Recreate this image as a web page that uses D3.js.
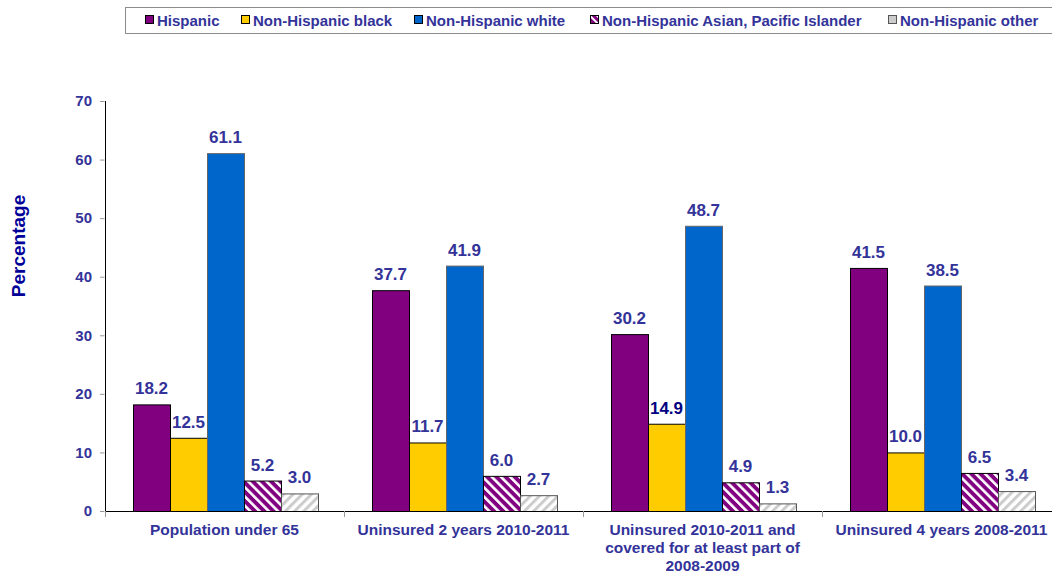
<!DOCTYPE html>
<html><head><meta charset="utf-8">
<script src="https://cdn.jsdelivr.net/npm/d3@7"></script>
<style>
html,body{margin:0;padding:0;background:#fff;}
svg{display:block;font-family:"Liberation Sans",Arial,sans-serif;font-weight:bold;}
</style></head>
<body>
<svg id="chart" width="1052" height="573"></svg>
<script>
const categories = [
  ["Population under 65"],
  ["Uninsured 2 years 2010-2011"],
  ["Uninsured 2010-2011 and", "covered for at least part of", "2008-2009"],
  ["Uninsured 4 years 2008-2011"]
];
const seriesNames = ["Hispanic", "Non-Hispanic black", "Non-Hispanic white", "Non-Hispanic Asian, Pacific Islander", "Non-Hispanic other"];
const hispanic = [18.2, 37.7, 30.2, 41.5];
const black = [12.5, 11.7, 14.9, 10.0];
const white = [61.1, 41.9, 48.7, 38.5];
const asian = [5.2, 6.0, 4.9, 6.5];
const other = [3.0, 2.7, 1.3, 3.4];
const yTicks = [0, 10, 20, 30, 40, 50, 60, 70];

const seriesValues = [hispanic, black, white, asian, other];
const fills = ["#800080", "#ffcc00", "#0066cc", "url(#patAsian)", "url(#patOther)"];
const swatchFills = ["#800080", "#ffcc00", "#0066cc", "url(#patAsianS)", "#cccccc"];
const strokes = ["#000", "#000", "#666", "#000", "#555"];

const svg = d3.select("#chart");
const defs = svg.append("defs");
function stripes(id, bg, fg, w, sw, angle) {
  const p = defs.append("pattern").attr("id", id).attr("patternUnits", "userSpaceOnUse")
    .attr("width", w).attr("height", w).attr("patternTransform", `rotate(${angle})`);
  p.append("rect").attr("width", w).attr("height", w).attr("fill", bg);
  p.append("rect").attr("width", sw).attr("height", w).attr("fill", fg);
}
stripes("patAsian", "#800080", "#ffffff", 6.5, 2.6, -45);
stripes("patAsianS", "#800080", "#ffffff", 5, 2, -45);
stripes("patOther", "#ffffff", "#cccccc", 6.5, 3, 45);

const yBase = 511, yTop = 101, xLeft = 105, bandW = 239;
const x = d3.scaleBand().domain(d3.range(categories.length)).range([xLeft, xLeft + bandW * categories.length]).padding(0);
const xs = d3.scaleBand().domain(d3.range(seriesNames.length)).range([28, 28 + 185]).padding(0);
const y = d3.scaleLinear().domain([0, 70]).range([yBase, yTop]);

// Legend
svg.append("rect").attr("x", 125.5).attr("y", 7.5).attr("width", 940).attr("height", 26)
  .attr("fill", "#fff").attr("stroke", "#8c8c8c").attr("stroke-width", 1);
const legendX = [145, 241, 414, 590, 888];
seriesNames.forEach((n, i) => {
  svg.append("rect").attr("x", legendX[i] + 0.5).attr("y", 15.5).attr("width", 8).attr("height", 8)
    .attr("fill", swatchFills[i]).attr("stroke", i === 4 ? "#555" : "#000").attr("stroke-width", 1);
  svg.append("text").attr("x", legendX[i] + 12).attr("y", 25.5).attr("font-size", 15)
    .attr("fill", "#333399").text(n);
});

// Y axis
const yAxis = d3.axisLeft(y).tickValues(yTicks).tickSize(5).tickPadding(8).tickFormat(d3.format("d"));
const ga = svg.append("g").attr("transform", `translate(${xLeft},0)`).call(yAxis);
ga.select(".domain").attr("stroke", "#000").attr("d", `M0.5,${yTop}V${yBase}`);
ga.selectAll(".tick line").attr("stroke", "#999").attr("x1", -0.5);
ga.selectAll(".tick text").attr("fill", "#333399").attr("font-size", 15).attr("font-weight", "bold")
  .attr("font-family", "Liberation Sans, Arial, sans-serif");

svg.append("text").attr("transform", `translate(25,246) rotate(-90)`).attr("text-anchor", "middle")
  .attr("font-size", 19).attr("fill", "#000099").text("Percentage");

// Bars
const groups = svg.append("g").selectAll("g").data(categories).join("g")
  .attr("transform", (d, i) => `translate(${x(i)},0)`);
seriesValues.forEach((vals, s) => {
  groups.append("rect")
    .attr("x", (d, i) => xs(s) + 0.5)
    .attr("y", (d, i) => y(vals[i]) + 0.5)
    .attr("width", xs.bandwidth())
    .attr("height", (d, i) => yBase - y(vals[i]))
    .attr("fill", fills[s]).attr("stroke", strokes[s]).attr("stroke-width", 1);
  groups.append("text")
    .attr("x", (d, i) => xs(s) + xs.bandwidth() / 2)
    .attr("y", (d, i) => y(vals[i]) - 10)
    .attr("text-anchor", "middle").attr("font-size", 17)
    .attr("fill", (d, i) => (s === 1 && i === 2) ? "#000080" : "#333399")
    .text((d, i) => vals[i].toFixed(1));
});

// X axis
const xAxisG = svg.append("g");
xAxisG.append("line").attr("x1", xLeft).attr("x2", 1052).attr("y1", yBase + 0.5).attr("y2", yBase + 0.5).attr("stroke", "#000");
d3.range(categories.length + 1).forEach(i => {
  const tx = xLeft + bandW * i + 0.5;
  xAxisG.append("line").attr("x1", tx).attr("x2", tx).attr("y1", yBase).attr("y2", yBase + 6).attr("stroke", "#999");
});
groups.each(function(lines, i) {
  const t = d3.select(this).append("text").attr("text-anchor", "middle").attr("font-size", 15.5).attr("fill", "#333399");
  lines.forEach((ln, k) => {
    t.append("tspan").attr("x", bandW / 2).attr("y", 535 + k * 18).text(ln);
  });
});
</script>
</body></html>
